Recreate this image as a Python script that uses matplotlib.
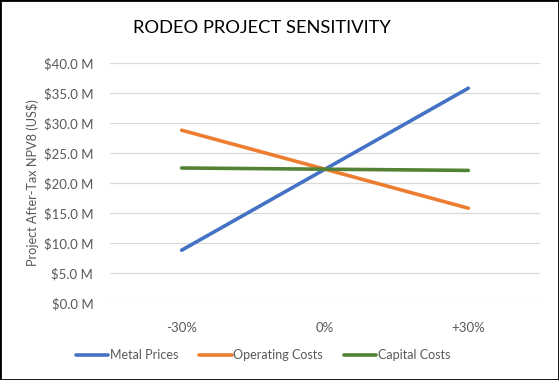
import matplotlib.pyplot as plt
from matplotlib.patches import Rectangle

# sensitivity cases
cases = ["-30%", "0%", "+30%"]
metal_prices = [8.8, 22.3, 35.8]
operating_costs = [28.8, 22.3, 15.8]
capital_costs = [22.5, 22.3, 22.1]

plt.rcParams['font.family'] = ['Lato', 'DejaVu Sans']

fig = plt.figure(figsize=(5.59, 3.80), dpi=100)
ax = fig.add_axes([110/559, 1 - 303/380, 430/559, 240/380])

x = range(len(cases))
ax.plot(x, metal_prices, color="#4472C4", lw=2.6, solid_capstyle="round", label="Metal Prices")
ax.plot(x, operating_costs, color="#ED7D31", lw=2.6, solid_capstyle="round", label="Operating Costs")
ax.plot(x, capital_costs, color="#548235", lw=2.6, solid_capstyle="round", label="Capital Costs")

ax.set_xlim(-0.5, 2.5)
ax.set_ylim(0, 40)
ax.set_yticks(range(0, 45, 5))
ax.set_yticklabels(["$%.1f M" % v for v in range(0, 45, 5)])
ax.set_xticks(list(x))
ax.set_xticklabels(cases)
ax.grid(axis="y", color="#D9D9D9", lw=0.9)
ax.set_axisbelow(True)
for s in ax.spines.values():
    s.set_visible(False)
ax.tick_params(length=0, colors="#595959", labelsize=9.5)
ax.tick_params(axis="y", pad=12)
ax.tick_params(axis="x", pad=14)

ax.set_ylabel("Project After-Tax NPV8 (US$)", color="#595959", fontsize=9.2)
ax.yaxis.set_label_coords(-0.165, 0.5)

fig.text(262/559, 1 - 28/380, "RODEO PROJECT SENSITIVITY", ha="center", va="center",
         fontsize=13.2, color="black")

fig.legend(loc="center", bbox_to_anchor=(263/559, 1 - 355/380), ncol=3, frameon=False,
           fontsize=9, labelcolor="#595959", handlelength=2.6, handletextpad=0.1,
           columnspacing=1.7)

fig.patches.append(Rectangle((0, 0), 1, 1, transform=fig.transFigure, fill=False,
                             edgecolor="black", lw=2))

fig.savefig("out.png", dpi=100)
